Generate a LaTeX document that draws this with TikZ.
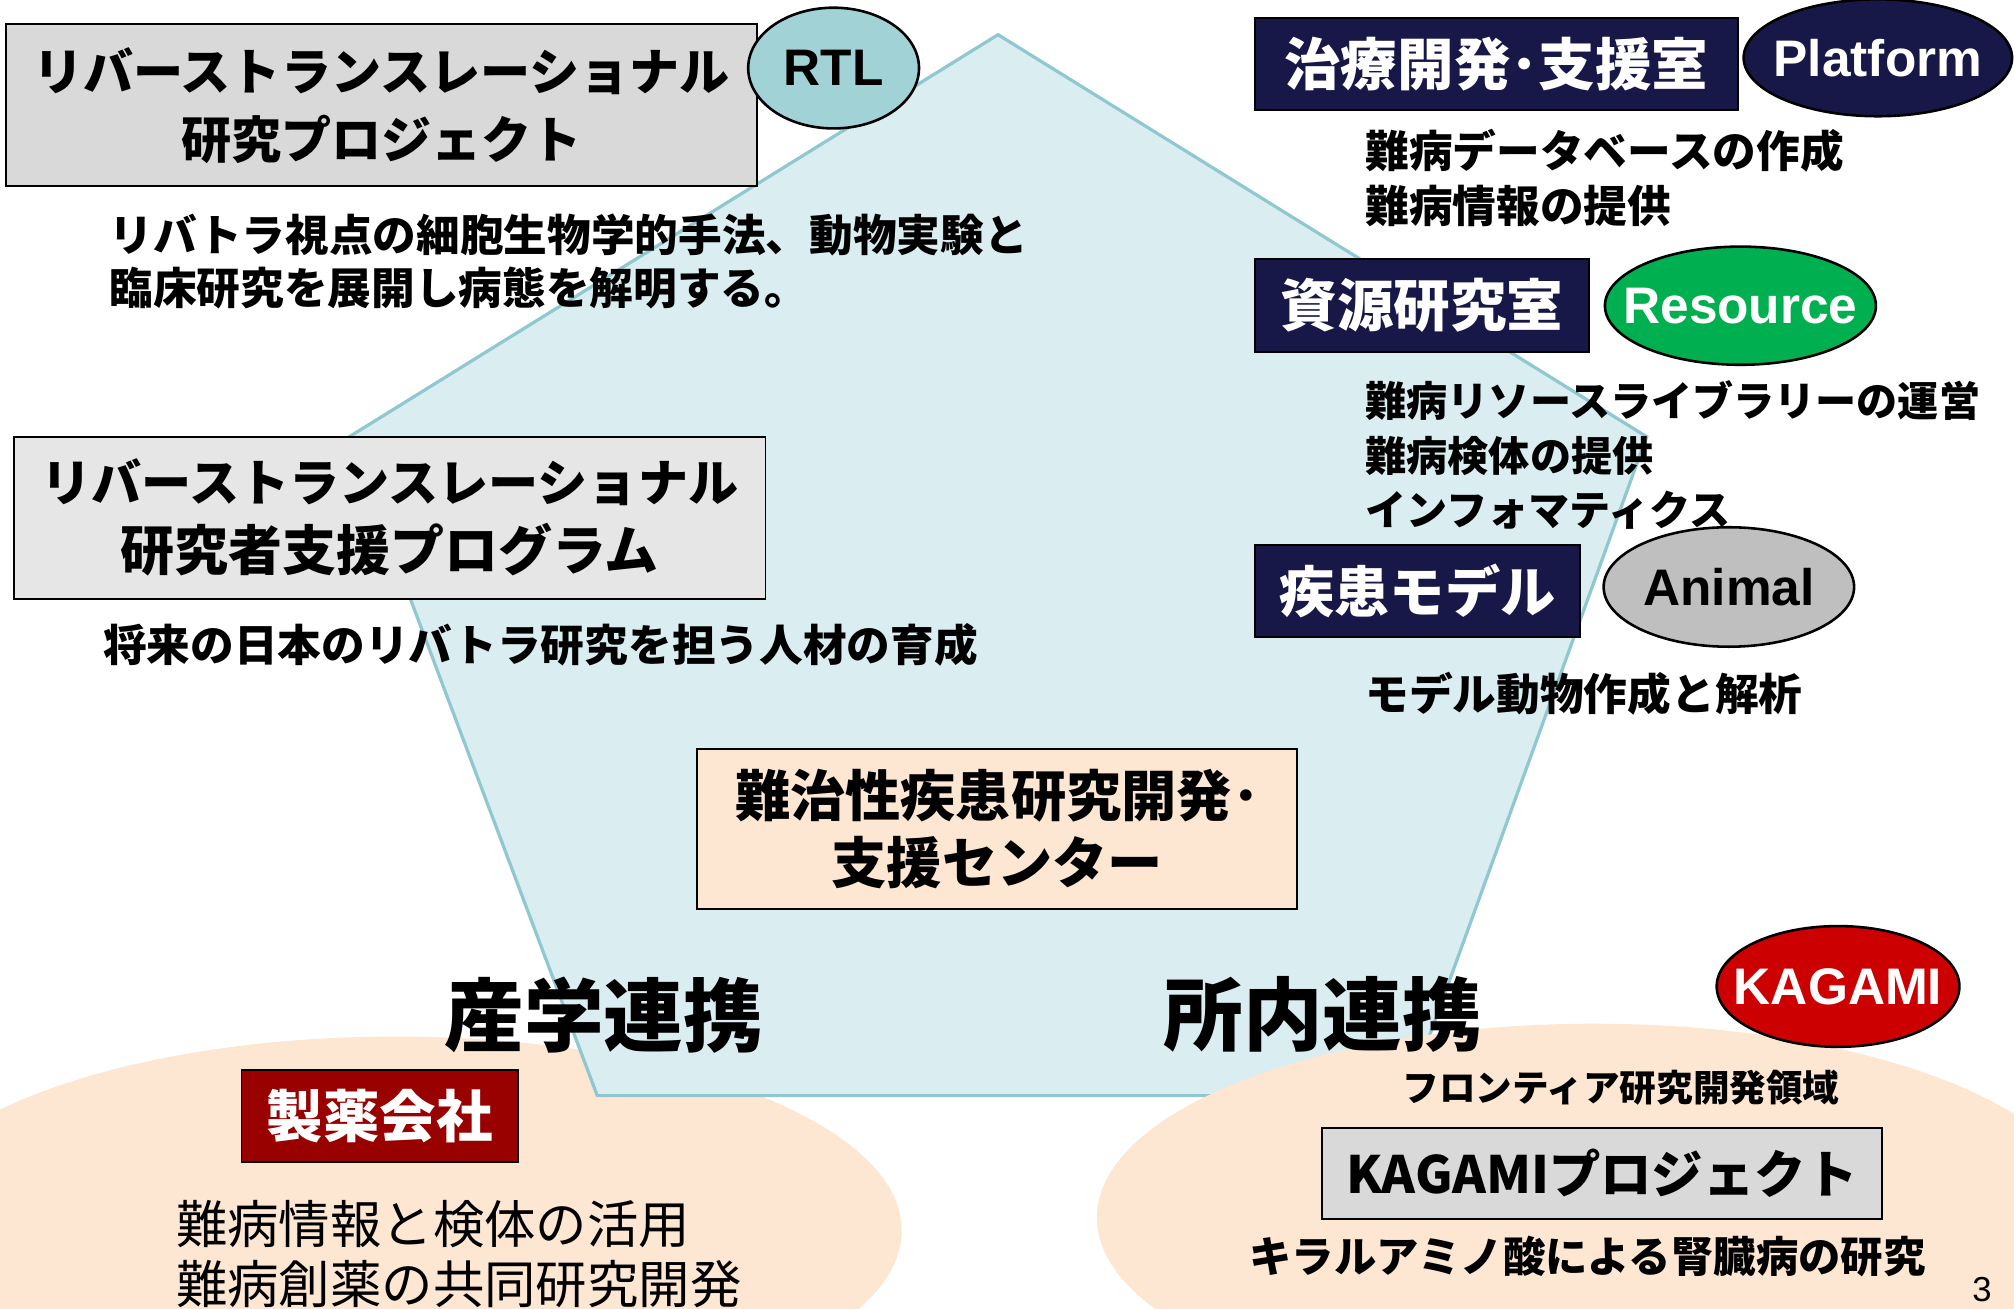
\documentclass[tikz,border=0pt]{standalone}
\usepackage{fontspec}
\usetikzlibrary{shapes.geometric}
\newfontfamily\jp{Noto Sans CJK JP}
\newfontfamily\lat{Liberation Sans}
\definecolor{pentfill}{RGB}{218,237,240}
\definecolor{pentline}{RGB}{143,200,208}
\definecolor{peach}{RGB}{253,230,210}
\definecolor{navy}{RGB}{24,24,72}
\definecolor{rtlcol}{RGB}{160,210,214}
\definecolor{grayA}{RGB}{217,217,217}
\definecolor{grayB}{RGB}{230,230,230}
\definecolor{kgreen}{RGB}{0,176,80}
\definecolor{kred}{RGB}{204,0,0}
\definecolor{dred}{RGB}{153,0,0}
\definecolor{agray}{RGB}{191,191,191}
\newcommand{\jfs}[2]{\jp\bfseries\fontsize{#1}{#2}\selectfont}
\tikzset{
  box/.style={draw=black, line width=1.5pt, inner sep=0pt, align=center},
  oval/.style={ellipse, draw=black, line width=2pt, inner sep=0pt},
  ovaltext/.style={inner sep=0pt, font=\lat\bfseries\fontsize{40}{40}\selectfont},
  body/.style={anchor=west, align=left, inner sep=0pt},
}
\begin{document}
\begin{tikzpicture}[x=1pt,y=-1pt]
\useasboundingbox (0,0) rectangle (1568,1019);
\clip (0,0) rectangle (1568,1019);
\fill[white] (0,0) rectangle (1568,1019);
\fill[peach] (308,958) ellipse [x radius=394, y radius=151];
\filldraw[fill=pentfill, draw=pentline, line width=2.5pt] (777,27) -- (1282,340) -- (1096,853) -- (465,853) -- (272,340) -- cycle;
\fill[peach] (1241,948) ellipse [x radius=387, y radius=151];

\node[box, fill=grayA, minimum width=584pt, minimum height=126pt, font=\jfs{39}{53}] (rtp) at (297,82) {リバーストランスレーショナル\\研究プロジェクト};
\node[oval, fill=rtlcol, minimum width=133pt, minimum height=94pt] (rtl) at (649,53) {};
\node[ovaltext] (rtlT) at (rtl.center) {RTL};
\node[body, font=\jfs{34}{41}] (rtpd) at (85,203.5) {リバトラ視点の細胞生物学的手法、動物実験と\\臨床研究を展開し病態を解明する。};

\node[box, fill=grayB, minimum width=585pt, minimum height=126pt, font=\jfs{39}{54}] (rsp) at (303.5,403) {リバーストランスレーショナル\\{\fontsize{42}{54}\selectfont 研究者支援プログラム}};
\node[body, font=\jfs{34}{41}] (rspd) at (80,502) {将来の日本のリバトラ研究を担う人材の育成};

\node[box, fill=navy, text=white, minimum width=376pt, minimum height=72pt, font=\jfs{44}{44}] (chiryo) at (1165,50) {治療開発･支援室};
\node[oval, fill=navy, minimum width=209pt, minimum height=91pt] (plat) at (1462,45) {};
\node[ovaltext, text=white] (platT) at (plat.center) {Platform};
\node[body, font=\jfs{34}{43}] (platd) at (1063,138.5) {難病データベースの作成\\難病情報の提供};

\node[box, fill=navy, text=white, minimum width=260pt, minimum height=72pt, font=\jfs{44}{44}] (shigen) at (1107,238) {資源研究室};
\node[oval, fill=kgreen, minimum width=211pt, minimum height=92pt] (res) at (1355,238) {};
\node[ovaltext, text=white] (resT) at (res.center) {Resource};
\node[body, font=\jfs{32}{42.5}] (resd) at (1063,354.5) {難病リソースライブラリーの運営\\難病検体の提供\\インフォマティクス};

\node[box, fill=navy, text=white, minimum width=253pt, minimum height=72pt, font=\jfs{43}{43}] (shikkan) at (1103.5,460) {疾患モデル};
\node[oval, fill=agray, minimum width=195pt, minimum height=93pt] (ani) at (1346,457) {};
\node[ovaltext] (aniT) at (ani.center) {Animal};
\node[body, font=\jfs{34}{41}] (anid) at (1063,540) {モデル動物作成と解析};

\node[box, fill=peach, minimum width=467pt, minimum height=125pt, font=\jfs{43}{52}] (center) at (776.5,645.5) {難治性疾患研究開発･\\支援センター};

\node[font=\jfs{62}{62}] (sangaku) at (470,790) {産学連携};
\node[font=\jfs{62}{62}] (shonai) at (1030,790) {所内連携};

\node[box, fill=dred, text=white, minimum width=215pt, minimum height=72pt, font=\jfs{44}{44}] (seiyaku) at (295.5,869) {製薬会社};
\node[body, font=\jp\fontsize{40}{47}\selectfont] (seiyakud) at (137,976.5) {難病情報と検体の活用\\難病創薬の共同研究開発};

\node[oval, fill=kred, minimum width=189pt, minimum height=94pt] (kagami) at (1431,768) {};
\node[ovaltext, text=white] (kagamiT) at (kagami.center) {KAGAMI};
\node[font=\jfs{28.5}{28.5}] (frontier) at (1262,847) {フロンティア研究開発領域};
\node[box, fill=grayA, minimum width=436pt, minimum height=71pt, font=\jfs{40}{40}] (kproj) at (1247,913.5) {KAGAMIプロジェクト};
\node[font=\jfs{33}{33}] (chiral) at (1236,978) {キラルアミノ酸による腎臓病の研究};
\node[font=\lat\fontsize{27}{27}\selectfont] (page) at (1543,1004) {3};
\end{tikzpicture}
\end{document}
